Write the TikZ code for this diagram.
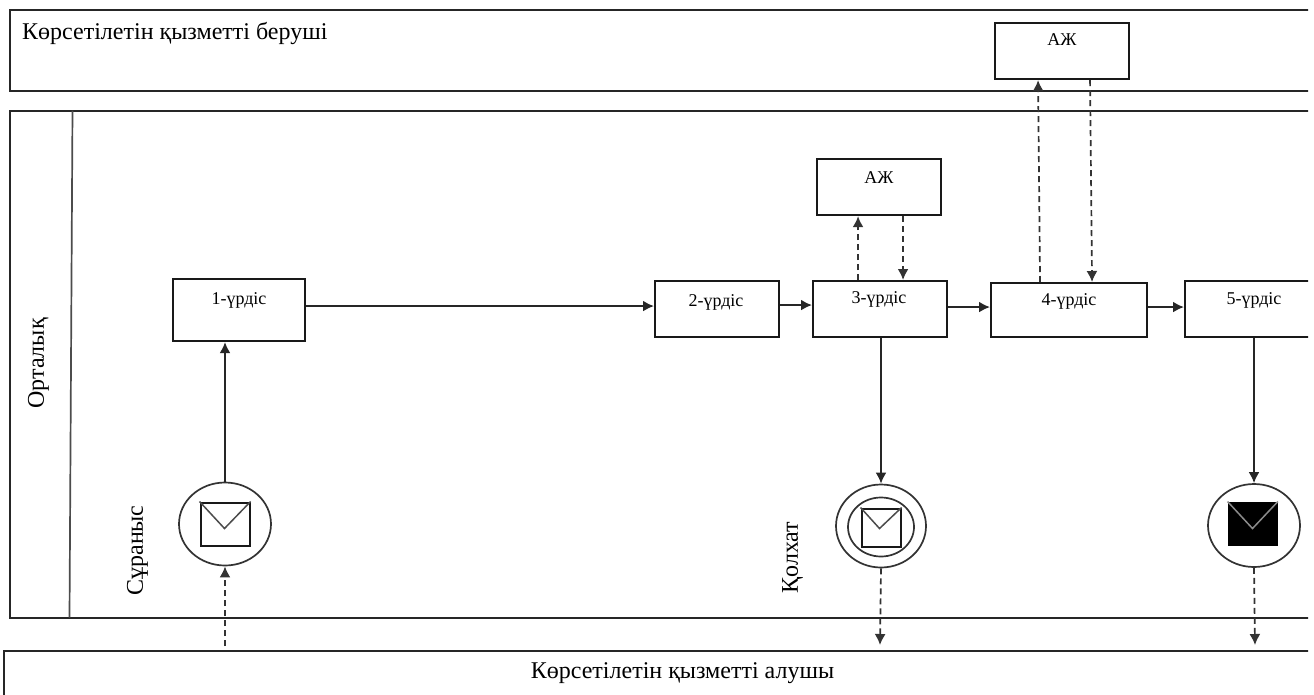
\documentclass[tikz,border=0pt]{standalone}
\usepackage{fontspec}
\setmainfont{Liberation Serif}
\usetikzlibrary{arrows.meta,shapes.geometric,positioning}
\tikzset{
  lane/.style={draw=black!85,line width=2.1pt,rectangle,inner sep=0pt,anchor=north west},
  stepbox/.style={draw=black!90,line width=2.1pt,rectangle,inner sep=0pt,anchor=north west,fill=white},
  small/.style={font=\fontsize{18}{18}\selectfont,inner sep=0pt,text=black},
  big/.style={font=\fontsize{24}{24}\selectfont,inner sep=0pt,text=black},
  evt/.style={draw=black!80,line width=1.7pt,ellipse,inner sep=0pt,fill=white},
  flow/.style={draw=black!85,line width=2.1pt,-{Latex[length=11pt,width=11pt]}},
  msg/.style={draw=black!80,line width=2.1pt,dash pattern=on 6pt off 4pt,-{Latex[length=11pt,width=11pt]}},
  msgs/.style={msg,line width=1.7pt},
  env/.style={draw=black!90,line width=2.1pt},
}
\begin{document}
\begin{tikzpicture}[x=1pt,y=-1pt]
\useasboundingbox (0,0) rectangle (1314,694);
\fill[white] (0,0) rectangle (1314,694);
\begin{scope}
\clip (0,0) rectangle (1308,694);
\begin{scope}[shift={(-1,-1)}]
% lanes
\node[lane,minimum width=1340pt,minimum height=81pt] (top) at (9.5,10) {};
\node[lane,minimum width=1340pt,minimum height=507pt] (mid) at (9.5,111) {};
\node[lane,minimum width=1340pt,minimum height=60pt] (bot) at (3.5,651) {};
\coordinate (divtop) at (73.5,111.5);
\coordinate (divbot) at (70.5,618.5);
\draw[draw=black!70,line width=1.7pt] (divtop) -- (divbot);
% boxes
\node[stepbox,minimum width=134pt,minimum height=56pt] (ajA) at (995,23) {};
\node[stepbox,minimum width=124pt,minimum height=56pt] (ajB) at (817,159) {};
\node[stepbox,minimum width=132pt,minimum height=62pt] (n1) at (173,279) {};
\node[stepbox,minimum width=124pt,minimum height=56pt] (n2) at (655,281) {};
\node[stepbox,minimum width=134pt,minimum height=56pt] (n3) at (813,281) {};
\node[stepbox,minimum width=156pt,minimum height=54pt] (n4) at (991,283) {};
\node[stepbox,minimum width=160pt,minimum height=56pt] (n5) at (1185,281) {};
% events
\node[evt,minimum width=92pt,minimum height=83pt] (c1) at (226,525) {};
\node[evt,minimum width=90pt,minimum height=83pt] (c2) at (882,527) {};
\node[evt,minimum width=66pt,minimum height=59pt] (c2i) at (882,528) {};
\node[evt,minimum width=92pt,minimum height=83pt] (c3) at (1255,526.5) {};
% envelopes
\node[env,rectangle,inner sep=0pt,anchor=north west,minimum width=49pt,minimum height=43pt] (e1) at (200.5,502.5) {};
\draw[draw=black!70,line width=1.5pt] (e1.north west) -- (225.5,529.5) -- (e1.north east);
\node[env,rectangle,inner sep=0pt,anchor=north west,minimum width=39pt,minimum height=38pt] (e2) at (861.5,508.5) {};
\draw[draw=black!70,line width=1.5pt] (e2.north west) -- (880.5,529.5) -- (e2.north east);
\node[rectangle,fill=black,inner sep=0pt,anchor=north west,minimum width=50pt,minimum height=44pt] (e3) at (1228.5,502.5) {};
\draw[draw=black!45,line width=1.5pt] (e3.north west) -- (1253.5,529.5) -- (e3.north east);
% connectors
\draw[flow] ([yshift=4pt]n1.east) -- ([yshift=4pt]n1.east -| n2.west);
\draw[flow] ([yshift=4pt]n2.east) -- ([yshift=4pt]n2.east -| n3.west);
\draw[flow] ([yshift=2pt]n3.east) -- ([yshift=2pt]n3.east -| n4.west);
\draw[flow] ([yshift=3pt]n4.east) -- ([yshift=3pt]n4.east -| n5.west);
\draw[flow] (c1.north) -- (c1.north |- n1.south);
\draw[flow] (n3.south -| c2.north) -- (c2.north);
\draw[flow] (n5.south -| c3.north) -- (c3.north);
\coordinate (q1) at (226,647);
\coordinate (q2) at (881,646);
\coordinate (q3) at (1256,646);
\draw[msg] (q1) -- (c1.south);
\draw[msgs] (c2.south) -- (q2);
\draw[msgs] (c3.south) -- (q3);
\draw[msg] ([xshift=-22pt]n3.north) -- ([xshift=-22pt]n3.north |- ajB.south);
\draw[msg] ([xshift=24pt]ajB.south) -- ([xshift=24pt]ajB.south |- n3.north);
\draw[msgs] ([xshift=-29pt]n4.north) -- ([xshift=-24pt]ajA.south);
\draw[msgs] ([xshift=28pt]ajA.south) -- ([xshift=23pt]n4.north);
% labels
\node[big,anchor=west] (ttop) at (23,34.5) {Көрсетілетін қызметті беруші};
\node[big] (tbot) at (683.5,674.5) {Көрсетілетін қызметті алушы};
\node[big,rotate=90] (torg) at (39.5,364.5) {Орталық};
\node[big,rotate=90] (treq) at (138.5,551.5) {Сұраныс};
\node[big,rotate=90] (trec) at (793.5,558.5) {Қолхат};
\node[small] at (1063,40.5) {АЖ};
\node[small] at (880,178.5) {АЖ};
\node[small] at (240,301.5) {1-үрдіс};
\node[small] at (717,303.5) {2-үрдіс};
\node[small] at (880,300.5) {3-үрдіс};
\node[small] at (1070,302.5) {4-үрдіс};
\node[small] at (1255,301.5) {5-үрдіс};
\end{scope}
\end{scope}
\end{tikzpicture}
\end{document}
